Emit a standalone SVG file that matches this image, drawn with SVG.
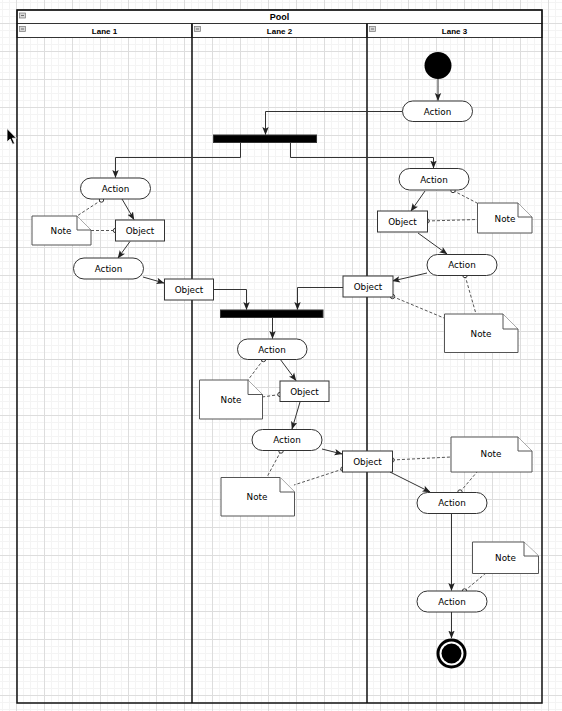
<svg xmlns="http://www.w3.org/2000/svg" width="562" height="711" viewBox="0 0 562 711">
<defs>
<pattern id="minor" x="2" y="2" width="7" height="7" patternUnits="userSpaceOnUse">
<path d="M0.5 0V7M0 0.5H7" stroke="#f4f4f4" stroke-width="1" fill="none"/>
</pattern>
<pattern id="major" x="16" y="23" width="28" height="28" patternUnits="userSpaceOnUse">
<path d="M0.5 0V28M0 0.5H28" stroke="#dddddd" stroke-width="1" fill="none"/>
</pattern>
<marker id="arr" viewBox="0 0 8 8" refX="7.5" refY="4" markerWidth="8" markerHeight="8" markerUnits="userSpaceOnUse" orient="auto">
<path d="M0 0.8L8 4L0 7.2L1.8 4Z" fill="#222"/>
</marker>
<style>
.hdr{fill:#fff;stroke:#333;stroke-width:1}
.ht{font-family:"Liberation Sans",Arial,sans-serif;font-weight:bold;font-size:8px;fill:#000;text-anchor:middle}
.icon{fill:#d8d8d8;stroke:#777;stroke-width:0.7}
.act{fill:#fff;stroke:#333;stroke-width:1}
.obj{fill:#fff;stroke:#333;stroke-width:1}
.note{fill:#fff;stroke:#555;stroke-width:1}
.lbl{font-family:"DejaVu Sans",Verdana,sans-serif;font-size:8.8px;fill:#000;text-anchor:middle}
.c{fill:none;stroke:#333;stroke-width:1;marker-end:url(#arr)}
.d{fill:none;stroke:#555;stroke-width:1;stroke-dasharray:3 2}
.dot{fill:#fff;stroke:#333;stroke-width:1}
.bar{fill:#000;stroke:#333;stroke-width:1}
</style>
</defs>
<rect width="562" height="711" fill="#fff"/>
<rect width="562" height="711" fill="url(#minor)"/>
<rect width="562" height="711" fill="url(#major)"/>

<g id="pool">
<rect x="17" y="10" width="525" height="13.5" class="hdr"/>
<text x="279.5" y="19.5" class="ht" style="font-size:9px">Pool</text>
<rect x="19.5" y="13" width="6" height="5" class="icon"/>
<line x1="21" y1="15.5" x2="24" y2="15.5" stroke="#555" stroke-width="0.8"/>
</g>
<g id="lane1">
<rect x="17" y="23.5" width="175" height="14" class="hdr"/>
<text x="104.5" y="33.5" class="ht">Lane 1</text>
<rect x="19.5" y="26.5" width="6" height="5" class="icon"/>
<line x1="21" y1="29" x2="24" y2="29" stroke="#555" stroke-width="0.8"/>
</g>
<g id="lane2">
<rect x="192" y="23.5" width="175" height="14" class="hdr"/>
<text x="279.5" y="33.5" class="ht">Lane 2</text>
<rect x="194.5" y="26.5" width="6" height="5" class="icon"/>
<line x1="196" y1="29" x2="199" y2="29" stroke="#555" stroke-width="0.8"/>
</g>
<g id="lane3">
<rect x="367" y="23.5" width="175" height="14" class="hdr"/>
<text x="454.5" y="33.5" class="ht">Lane 3</text>
<rect x="369.5" y="26.5" width="6" height="5" class="icon"/>
<line x1="371" y1="29" x2="374" y2="29" stroke="#555" stroke-width="0.8"/>
</g>
<g id="pool-frame" fill="none" stroke="#111" stroke-width="1.5">
<rect x="17" y="10" width="525" height="693"/>
<line x1="192" y1="23.5" x2="192" y2="703"/>
<line x1="367" y1="23.5" x2="367" y2="703"/>
</g>

<g id="connectors">
<path class="c" d="M438 79V100.5"/>
<path class="c" d="M402 111.5H265.5V134.5"/>
<path class="c" d="M240.5 143V157.5H115.5V177.5"/>
<path class="c" d="M290.5 143V157.5H433.5V168"/>
<path class="c" d="M122 199L134 219.5"/>
<path class="c" d="M130 241.5L118 258"/>
<path class="c" d="M143 277L164 283"/>
<path class="c" d="M213 289.5H246.5V309.5"/>
<path class="c" d="M343 287.5H297.5V309.5"/>
<path class="c" d="M272.5 318V338.5"/>
<path class="c" d="M280 359L296 380.5"/>
<path class="c" d="M300 402L292 429"/>
<path class="c" d="M322 449L342 454"/>
<path class="c" d="M390 472L430 492"/>
<path class="c" d="M451.5 513V590.5"/>
<path class="c" d="M451.5 612V638"/>
<path class="c" d="M425 191L411 211"/>
<path class="c" d="M418 233L447 254"/>
<path class="c" d="M427 273L392.5 281"/>
<path class="d" d="M101.5 200L77 216"/>
<path class="d" d="M91 230.5H115.5"/>
<path class="d" d="M453 190.5L477 203"/>
<path class="d" d="M427 221L477 219.5"/>
<path class="d" d="M465 275.5L476 314"/>
<path class="d" d="M392.5 296.5L444 318"/>
<path class="d" d="M263.5 359.5L248 380"/>
<path class="d" d="M280 394.5L262 397"/>
<path class="d" d="M281 451L267 477"/>
<path class="d" d="M343 469L294 485"/>
<path class="d" d="M392 460L451 457"/>
<path class="d" d="M460 492L477 472"/>
<path class="d" d="M464.5 591L486 573"/>
<circle class="dot" cx="101.5" cy="200" r="2.2"/>
<circle class="dot" cx="115.5" cy="230.5" r="2.2"/>
<circle class="dot" cx="453" cy="190.5" r="2.2"/>
<circle class="dot" cx="427" cy="221" r="2.2"/>
<circle class="dot" cx="465" cy="275.5" r="2.2"/>
<circle class="dot" cx="392.5" cy="296.5" r="2.2"/>
<circle class="dot" cx="263.5" cy="359.5" r="2.2"/>
<circle class="dot" cx="280" cy="394.5" r="2.2"/>
<circle class="dot" cx="281" cy="451" r="2.2"/>
<circle class="dot" cx="343" cy="469" r="2.2"/>
<circle class="dot" cx="392" cy="460" r="2.2"/>
<circle class="dot" cx="460" cy="492" r="2.2"/>
<circle class="dot" cx="464.5" cy="591" r="2.2"/>
</g>

<g id="start"><circle cx="438" cy="65.5" r="13.5" fill="#000"/></g>
<g id="action-r1"><rect class="act" x="402.5" y="101" width="70" height="20.5" rx="10.25"/><text class="lbl" x="437.5" y="114.5">Action</text></g>
<g id="fork1"><rect class="bar" x="213.5" y="135" width="103" height="7.5"/></g>
<g id="action-l1a"><rect class="act" x="80.5" y="178" width="70" height="21" rx="10.5"/><text class="lbl" x="115.5" y="191.5">Action</text></g>
<g id="note-l1"><path class="note" d="M32 216H77L91 230V245H32Z"/><path class="note" d="M77 216V230H91" fill="none"/><text class="lbl" x="61" y="233.5">Note</text></g>
<g id="object-l1"><rect class="obj" x="115.5" y="220" width="49" height="21"/><text class="lbl" x="140" y="233.5">Object</text></g>
<g id="action-l1b"><rect class="act" x="73.5" y="258" width="70" height="21" rx="10.5"/><text class="lbl" x="108.5" y="271.5">Action</text></g>
<g id="object-m1"><rect class="obj" x="164.5" y="279" width="49" height="21"/><text class="lbl" x="189" y="292.5">Object</text></g>
<g id="action-r2"><rect class="act" x="399" y="168.5" width="70" height="21.5" rx="10.75"/><text class="lbl" x="434" y="182.5">Action</text></g>
<g id="object-r1"><rect class="obj" x="377.5" y="211" width="50" height="21"/><text class="lbl" x="402.5" y="224.5">Object</text></g>
<g id="note-r1"><path class="note" d="M477.5 203H518L532 217V233H477.5Z"/><path class="note" d="M518 203V217H532" fill="none"/><text class="lbl" x="505" y="221.5">Note</text></g>
<g id="action-r3"><rect class="act" x="427" y="254.5" width="70" height="21" rx="10.5"/><text class="lbl" x="462" y="268">Action</text></g>
<g id="object-r2"><rect class="obj" x="343" y="276" width="50" height="21"/><text class="lbl" x="368" y="289.5">Object</text></g>
<g id="note-r2"><path class="note" d="M444.5 314H503L518 329V352.5H444.5Z"/><path class="note" d="M503 314V329H518" fill="none"/><text class="lbl" x="481" y="336.5">Note</text></g>
<g id="fork2"><rect class="bar" x="220.5" y="310" width="102.5" height="7.5"/></g>
<g id="action-m1"><rect class="act" x="237.5" y="339" width="69.5" height="20.5" rx="10.25"/><text class="lbl" x="272" y="352.5">Action</text></g>
<g id="note-m1"><path class="note" d="M199.5 380H248L262.5 394.5V419H199.5Z"/><path class="note" d="M248 380V394.5H262.5" fill="none"/><text class="lbl" x="231" y="403">Note</text></g>
<g id="object-m2"><rect class="obj" x="280" y="381" width="49" height="20.5"/><text class="lbl" x="304.5" y="394.5">Object</text></g>
<g id="action-m2"><rect class="act" x="252" y="429.5" width="70" height="21" rx="10.5"/><text class="lbl" x="287" y="443">Action</text></g>
<g id="note-m2"><path class="note" d="M221 477.5H280L294.5 492V516H221Z"/><path class="note" d="M280 477.5V492H294.5" fill="none"/><text class="lbl" x="257" y="499.5">Note</text></g>
<g id="object-m3"><rect class="obj" x="342.5" y="451" width="50" height="21"/><text class="lbl" x="367.5" y="464.5">Object</text></g>
<g id="note-r3"><path class="note" d="M451 437H518L532 451V472H451Z"/><path class="note" d="M518 437V451H532" fill="none"/><text class="lbl" x="491" y="457">Note</text></g>
<g id="action-r4"><rect class="act" x="417" y="492.5" width="70" height="21" rx="10.5"/><text class="lbl" x="452" y="506">Action</text></g>
<g id="note-r4"><path class="note" d="M472.5 542H524L538.5 556V573.5H472.5Z"/><path class="note" d="M524 542V556H538.5" fill="none"/><text class="lbl" x="505.5" y="560.5">Note</text></g>
<g id="action-r5"><rect class="act" x="417" y="591" width="70" height="21" rx="10.5"/><text class="lbl" x="452" y="604.5">Action</text></g>
<g id="end"><circle cx="451.5" cy="653.5" r="13.5" fill="#fff" stroke="#000" stroke-width="3"/><circle cx="451.5" cy="653.5" r="10" fill="#000"/></g>

<g id="cursor"><path d="M7 128.5V142L10.2 139L12.6 144.3L14.6 143.4L12.3 138.2H16.5Z" fill="#000" stroke="#fff" stroke-width="0.8"/></g>
</svg>
